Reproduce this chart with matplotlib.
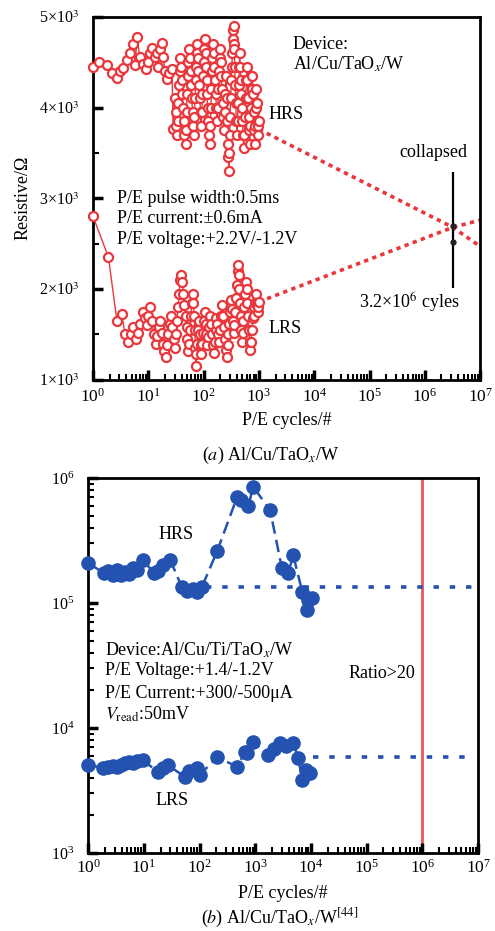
import matplotlib
matplotlib.use("Agg")
import matplotlib.pyplot as plt
from matplotlib.ticker import FixedLocator, FixedFormatter, LogLocator, NullFormatter

plt.rcParams["font.family"] = ["Liberation Serif", "DejaVu Serif"]
plt.rcParams["mathtext.fontset"] = "stix"

# (a) Al/Cu/TaOx/W endurance
hrs_a_x = [1, 1.3, 1.8, 2.2, 2.7, 3.1, 3.5, 4.1, 4.7, 5.3, 5.8, 6.2, 7, 8, 9, 9.9, 10.8, 11.7, 13, 14.4, 15,
           16.5, 17.9, 18.5, 20, 21.8, 24, 26.8, 28,
           30, 31, 32, 33, 34, 35, 36, 37, 38, 39, 40, 41, 42, 44, 45, 47, 48, 49, 50, 52, 53, 55, 56, 58, 60,
           61, 63, 65, 66, 68, 70, 72, 73, 75, 76, 78, 80, 83, 85, 88, 90, 93, 95, 98, 100, 103, 105, 108,
           110, 113, 115, 118, 120, 124, 128, 132, 135, 138, 140, 144, 148, 152, 155, 160, 165, 170, 175, 180,
           185, 190, 195, 200, 205, 210, 215, 220, 225, 232, 240, 248, 255, 260, 265, 272, 280, 285, 290, 295,
           300, 308, 315, 322, 330, 338, 345, 350, 355, 360, 365, 372, 380, 390, 400, 410, 420, 430, 440, 450,
           460, 470, 480, 490, 500, 515, 530, 545, 560, 575, 590, 605, 620, 635, 650, 665, 680, 700, 720, 740,
           760, 780, 800, 820, 840, 860, 880, 900, 920, 940, 960, 980, 1000]
hrs_a_y = [4450, 4500, 4470, 4380, 4330, 4400, 4430, 4520, 4600, 4700, 4470, 4780, 4560, 4480, 4420, 4500,
           4600, 4660, 4560, 4600, 4450, 4650, 4710, 4560, 4400, 4310, 4380, 4420, 3760,
           4100, 3950, 3800, 3700, 3850, 4050, 4250, 4400, 4550, 4450, 4300, 4150, 4000, 3850, 3700, 3600,
           3750, 3950, 4150, 4350, 4500, 4650, 4550, 4400, 4250, 4100, 3950, 3800, 3700, 3900, 4100, 4300,
           4450, 4600, 4700, 4550, 4400, 4250, 4100, 3950, 3800, 3950, 4150, 4350, 4500, 4650, 4750, 4600,
           4450, 4300, 4150, 4000, 3850, 3700, 3600, 3800, 4000, 4200, 4400, 4550, 4700, 4600, 4450, 4300,
           4150, 4000, 3850, 4000, 4200, 4400, 4550, 4650, 4500, 4350, 4200, 4050, 3900, 3750, 3950, 4150,
           4350, 4100, 3850, 3600, 3450, 3300, 3500, 3700, 3900, 4100, 4300, 4450, 4600, 4750, 4850, 4700,
           4900, 4650, 4450, 4250, 4050, 3850, 3700, 3850, 4050, 4250, 4450, 4600, 4450, 4300, 4150, 4000,
           3850, 3700, 3550, 3700, 3900, 4100, 4300, 4450, 4300, 4100, 3900, 3750, 3600, 3800, 4000, 4200,
           4350, 4150, 3950, 3750, 3600, 3800, 4000, 4200, 4050, 3850, 3700, 3800, 3850]

lrs_a_x = [1, 1.9, 2.7, 3.3, 3.8, 4.3, 4.8, 5.3, 6, 6.6, 7.2, 8, 8.6, 9.3, 10, 10.7, 11.5, 12.5, 13.5, 14.5,
           15.5, 16.5, 17.5, 18.5, 19.5, 21, 22, 23, 24.5, 26, 27, 28.5, 30, 31.5, 33, 34.5, 36, 37.5, 39, 41,
           43, 45, 47, 49, 51, 53, 55, 57, 59, 61, 63, 65, 67, 69, 71, 72, 74, 76, 79, 82, 85, 88, 91, 94, 97,
           100, 104, 108, 112, 116, 120, 125, 130, 135, 140, 146, 152, 158, 164, 170, 177, 184, 191, 198, 206,
           214, 222, 230, 240, 250, 260, 270, 280, 290, 300, 312, 324, 336, 348, 360, 372, 385, 398, 410, 420,
           430, 442, 455, 468, 480, 495, 510, 525, 540, 560, 580, 600, 620, 640, 660, 680, 700, 720, 745, 770,
           800, 830, 860, 890, 920, 950, 975, 1000]
lrs_a_y = [2800, 2350, 1650, 1720, 1500, 1420, 1500, 1580, 1450, 1520, 1620, 1750, 1680, 1600, 1700, 1800,
           1650, 1500, 1400, 1480, 1580, 1650, 1520, 1400, 1320, 1250, 1380, 1500, 1620, 1700, 1580, 1450,
           1350, 1500, 1650, 1800, 1950, 2100, 2150, 2080, 1950, 1820, 1700, 1580, 1450, 1320, 1400, 1550,
           1700, 1850, 1950, 1850, 1700, 1550, 1350, 1150, 1280, 1400, 1550, 1650, 1500, 1380, 1280, 1400,
           1520, 1650, 1750, 1620, 1500, 1380, 1470, 1580, 1700, 1620, 1500, 1380, 1300, 1420, 1550, 1680,
           1620, 1500, 1420, 1550, 1700, 1820, 1700, 1580, 1450, 1330, 1250, 1380, 1500, 1620, 1750, 1880,
           1780, 1650, 1520, 1600, 1750, 1900, 2050, 2200, 2270, 2150, 2000, 1850, 1700, 1550, 1420, 1520,
           1650, 1800, 1950, 2080, 2000, 1850, 1700, 1550, 1420, 1330, 1420, 1550, 1680, 1800, 1700, 1850,
           1950, 1850, 1750, 1800, 1860]

# extrapolation towards collapse
hrs_a_trend_x = [1000, 3.2e6, 1e7]
hrs_a_trend_y = [3760, 2680, 2470]
lrs_a_trend_x = [1000, 3.2e6, 1e7]
lrs_a_trend_y = [1860, 2680, 2760]
collapse_x = 3.2e6
collapse_lo, collapse_hi = 2010, 3290
collapse_pts = [2520, 2700]

# (b) Al/Cu/Ti/TaOx/W endurance
hrs_b_x = [1, 1.9, 2.3, 2.8, 3.3, 3.9, 4.6, 5.4, 6.3, 7.5, 9.7, 15, 18, 22, 30, 48, 60, 75, 90, 110,
           207, 470, 560, 750, 920, 1850, 3000, 3900, 4800, 7000, 8500, 8900, 10500]
hrs_b_y = [2.09e5, 1.74e5, 1.8e5, 1.68e5, 1.85e5, 1.66e5, 1.78e5, 1.72e5, 1.9e5, 1.85e5, 2.2e5, 1.75e5,
           1.8e5, 2.0e5, 2.2e5, 1.34e5, 1.25e5, 1.3e5, 1.22e5, 1.34e5, 2.6e5, 7.0e5, 6.7e5, 6.0e5, 8.5e5,
           5.5e5, 1.9e5, 1.74e5, 2.4e5, 1.22e5, 8.8e4, 1.06e5, 1.1e5]
lrs_b_x = [1, 1.86, 2.3, 2.8, 3.3, 3.9, 4.6, 5.4, 6.3, 7.5, 9.7, 18, 22, 27, 55, 65, 90, 100, 207, 470,
           660, 710, 920, 1700, 2200, 2800, 3500, 4800, 5900, 7000, 8000, 9600]
lrs_b_y = [5.05e3, 4.8e3, 4.9e3, 5.0e3, 4.85e3, 5.1e3, 5.2e3, 5.3e3, 5.25e3, 5.4e3, 5.5e3, 4.45e3, 4.8e3,
           5.05e3, 4.05e3, 4.5e3, 4.8e3, 4.2e3, 5.85e3, 4.9e3, 6.4e3, 6.3e3, 7.7e3, 6.1e3, 6.8e3, 7.6e3,
           7.2e3, 7.6e3, 5.7e3, 3.85e3, 4.6e3, 4.4e3]
hrs_b_level = 1.34e5
lrs_b_level = 5.85e3
ratio_x = 1e6

red = "#e8383d"
blue = "#2352b0"
fs = 13

fig = plt.figure(figsize=(4.95, 9.31), dpi=100)
ax1 = fig.add_axes([0.188, 0.592, 0.782, 0.390])
ax2 = fig.add_axes([0.178, 0.0838, 0.788, 0.4028])


def style_axis(ax):
    for s in ax.spines.values():
        s.set_linewidth(2.0)
    ax.tick_params(which="major", direction="in", length=7, width=2.5, labelsize=12.5,
                   top=False, right=False, pad=4)
    ax.tick_params(axis="y", which="major", labelsize=11.5, pad=10)
    ax.tick_params(which="minor", direction="in", length=4, width=1.5, top=False, right=False)
    ax.set_xscale("log")
    ax.set_xlim(1, 1e7)
    ax.xaxis.set_major_locator(LogLocator(base=10, numticks=10))
    ax.xaxis.set_minor_locator(LogLocator(base=10, subs=range(2, 10), numticks=20))
    ax.xaxis.set_minor_formatter(NullFormatter())
    ax.set_xlabel("P/E cycles/#", fontsize=fs, labelpad=6)


# top panel
style_axis(ax1)
ax1.tick_params(axis="x", which="major", pad=6)
ax1.set_ylim(1000, 5000)
ax1.yaxis.set_major_locator(FixedLocator([1000, 2000, 3000, 4000, 5000]))
ax1.yaxis.set_major_formatter(FixedFormatter(["1×10$^3$", "2×10$^3$", "3×10$^3$", "4×10$^3$", "5×10$^3$"]))
ax1.yaxis.set_minor_locator(FixedLocator([1500, 2500, 3500, 4500]))
ax1.set_ylabel("Resistive/Ω", fontsize=fs)
ax1.yaxis.set_label_coords(-0.16, 0.5)
ax1.xaxis.labelpad = 4

ax1.plot(hrs_a_trend_x, hrs_a_trend_y, color=red, lw=2.6, ls=(0, (1.2, 1.2)), zorder=2)
ax1.plot(lrs_a_trend_x, lrs_a_trend_y, color=red, lw=2.6, ls=(0, (1.2, 1.2)), zorder=2)
ax1.plot(hrs_a_x, hrs_a_y, color=red, lw=1.0, marker="o", ms=6.5, mfc="white", mec=red, mew=1.6,
         zorder=3, clip_on=False)
ax1.plot(lrs_a_x, lrs_a_y, color=red, lw=1.0, marker="o", ms=6.5, mfc="white", mec=red, mew=1.6,
         zorder=3, clip_on=False)
ax1.vlines(collapse_x, collapse_lo, collapse_hi, color="black", lw=1.6, zorder=4)
ax1.plot([collapse_x] * len(collapse_pts), collapse_pts, "o", color="#222222", ms=3.5, zorder=5)

ax1.text(4.1e3, 4692, "Device:", fontsize=fs, va="center")
ax1.text(4.1e3, 4471, "Al/Cu/TaO$_x$/W", fontsize=fs, va="center")
ax1.text(1.5e3, 3920, "HRS", fontsize=fs, va="center")
ax1.text(1.5e3, 1570, "LRS", fontsize=fs, va="center")
ax1.text(1.4e6, 3500, "collapsed", fontsize=fs, ha="center", va="center")
ax1.text(5.2e5, 1850, "3.2×10$^6$ cyles", fontsize=fs, ha="center", va="center")
ax1.text(2.7, 2995, "P/E pulse width:0.5ms", fontsize=fs, va="center")
ax1.text(2.7, 2774, "P/E current:±0.6mA", fontsize=fs, va="center")
ax1.text(2.7, 2543, "P/E voltage:+2.2V/-1.2V", fontsize=fs, va="center")

# bottom panel
style_axis(ax2)
ax2.set_yscale("log")
ax2.set_ylim(1e3, 1e6)
ax2.yaxis.set_major_locator(LogLocator(base=10, numticks=10))
ax2.yaxis.set_minor_locator(LogLocator(base=10, subs=range(2, 10), numticks=20))
ax2.yaxis.set_minor_formatter(NullFormatter())

ax2.axvline(ratio_x, color="#e8555a", lw=2.0, zorder=1)
ax2.plot([130, 8e6], [hrs_b_level, hrs_b_level], color=blue, lw=2.6, ls=(0, (1.5, 3)), zorder=2)
ax2.plot([1.1e4, 8e6], [lrs_b_level, lrs_b_level], color=blue, lw=2.6, ls=(0, (1.5, 3)), zorder=2)
ax2.plot(hrs_b_x, hrs_b_y, color=blue, lw=1.8, ls=(0, (5, 2.5)), marker="o", ms=9.5, mec=blue,
         zorder=3, clip_on=False)
ax2.plot(lrs_b_x, lrs_b_y, color=blue, lw=1.8, ls=(0, (5, 2.5)), marker="o", ms=9.5, mec=blue,
         zorder=3, clip_on=False)

ax2.text(38, 3.5e5, "HRS", fontsize=fs, ha="center", va="center")
ax2.text(32, 2.65e3, "LRS", fontsize=fs, ha="center", va="center")
ax2.text(1.9e5, 2.75e4, "Ratio>20", fontsize=fs, ha="center", va="center")
ax2.text(2.0, 4.2e4, "Device:Al/Cu/Ti/TaO$_x$/W", fontsize=fs, va="center")
ax2.text(2.0, 2.86e4, "P/E Voltage:+1.4/-1.2V", fontsize=fs, va="center")
ax2.text(2.0, 1.87e4, "P/E Current:+300/-500μA", fontsize=fs, va="center")
ax2.text(2.0, 1.29e4, "$V_{\\mathrm{read}}$:50mV", fontsize=fs, va="center")

fig.text(0.547, 0.511, "($a$) Al/Cu/TaO$_x$/W", fontsize=fs, ha="center", va="center")
fig.text(0.566, 0.014, "($b$) Al/Cu/TaO$_x$/W$^{[44]}$", fontsize=fs, ha="center", va="center")

fig.savefig("out.png", dpi=100)
